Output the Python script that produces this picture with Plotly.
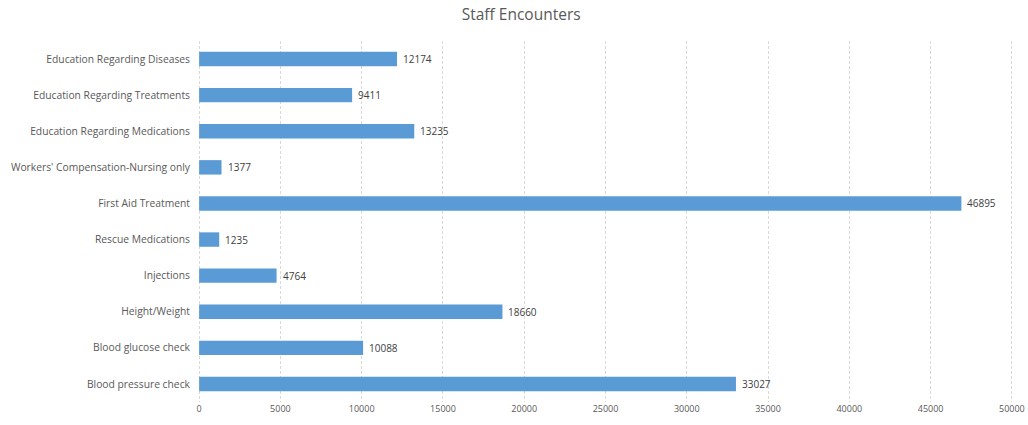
import plotly.graph_objects as go

categories = [
    "Blood pressure check",
    "Blood glucose check",
    "Height/Weight",
    "Injections",
    "Rescue Medications",
    "First Aid Treatment",
    "Workers' Compensation-Nursing only",
    "Education Regarding Medications",
    "Education Regarding Treatments",
    "Education Regarding Diseases",
]
values = [33027, 10088, 18660, 4764, 1235, 46895, 1377, 13235, 9411, 12174]
x_ticks = [0, 5000, 10000, 15000, 20000, 25000, 30000, 35000, 40000, 45000, 50000]

fig = go.Figure(go.Bar(
    y=categories,
    x=values,
    orientation="h",
    marker=dict(color="#5B9BD5", line=dict(width=0)),
    hoverinfo="x+y",
))

for c, v in zip(categories, values):
    fig.add_annotation(
        x=v, y=c, text=str(v), showarrow=False,
        xanchor="left", xshift=4,
        font=dict(size=10, color="#404040", family="Open Sans"),
    )

fig.update_layout(
    width=1028,
    height=425,
    margin=dict(l=198, r=15, t=41, b=23, autoexpand=False),
    paper_bgcolor="white",
    plot_bgcolor="white",
    title=dict(text="Staff Encounters", x=0.507, xanchor="center", y=0.965, yanchor="middle",
               font=dict(size=15.5, color="#595959", family="Open Sans")),
    bargap=0.6,
    showlegend=False,
    font=dict(family="Open Sans", color="#595959"),
)
fig.update_xaxes(
    range=[-70, 50070],
    tickvals=x_ticks,
    ticktext=[str(t) for t in x_ticks],
    showgrid=True,
    gridcolor="#D9D9D9",
    griddash="3px,2px",
    gridwidth=1,
    zeroline=False,
    showline=False,
    automargin=False,
    tickfont=dict(size=9, color="#595959"),
    ticks="",
)
fig.update_yaxes(
    categoryorder="array",
    categoryarray=categories,
    showgrid=False,
    showline=False,
    automargin=False,
    ticks="",
    ticklabelstandoff=7,
    tickfont=dict(size=10.3, color="#595959"),
)

fig.write_html(
    "out.html",
    config={"displayModeBar": False},
    post_script="document.body.style.margin='0';document.body.style.padding='0';",
)
